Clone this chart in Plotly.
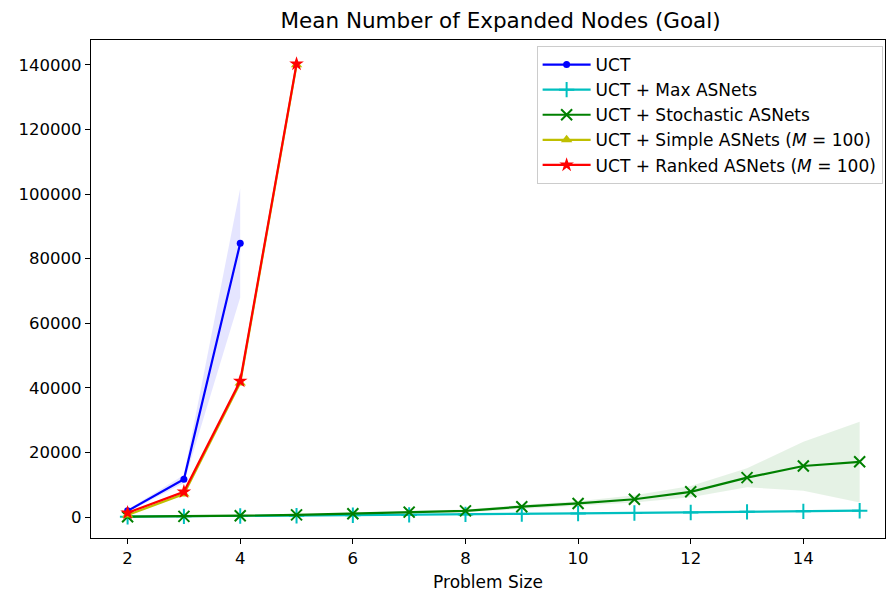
import plotly.graph_objects as go

# ---- data ----
sizes_short = [2, 3, 4]
sizes_mid = [2, 3, 4, 5]
sizes_long = list(range(2, 16))

uct_mean = [1900, 11700, 84800]
uct_lo = [1500, 10500, 68000]
uct_hi = [2300, 13000, 101800]

max_mean = [100, 200, 300, 400, 550, 650, 800, 950, 1100, 1250, 1400, 1600, 1750, 1950]
max_lo = [80, 170, 260, 350, 490, 580, 720, 860, 1000, 1140, 1280, 1460, 1600, 1780]
max_hi = [120, 230, 340, 450, 610, 720, 880, 1040, 1200, 1360, 1520, 1740, 1900, 2120]

sto_mean = [100, 200, 400, 650, 1000, 1500, 1900, 3200, 4200, 5500, 7800, 12200, 15800, 17100]
sto_lo = [80, 160, 320, 520, 800, 1150, 1450, 2600, 3500, 4500, 6100, 9200, 8100, 4500]
sto_hi = [120, 240, 480, 780, 1200, 1850, 2350, 3800, 4900, 6700, 9600, 15100, 23300, 29500]

simple_mean = [600, 7100, 41500, 140000]
simple_lo = [500, 6800, 41000, 139500]
simple_hi = [700, 7400, 42000, 140500]

ranked_mean = [1300, 7800, 42100, 140300]
ranked_lo = [1200, 7500, 41600, 139800]
ranked_hi = [1400, 8100, 42600, 140800]

names = [
    "UCT",
    "UCT + Max ASNets",
    "UCT + Stochastic ASNets",
    "UCT + Simple ASNets (<i>M</i> = 100)",
    "UCT + Ranked ASNets (<i>M</i> = 100)",
]
colors = ["#0000ff", "#00bfbf", "#008000", "#bfbf00", "#ff0000"]
fills = ["rgba(0,0,255,0.1)", "rgba(0,191,191,0.1)", "rgba(0,128,0,0.1)",
         "rgba(191,191,0,0.1)", "rgba(255,0,0,0.1)"]
symbols = ["circle", "cross-thin", "x-thin", "triangle-up", "star"]
msizes = [7, 11, 11, 10, 11]

series = [
    (sizes_short, uct_mean, uct_lo, uct_hi),
    (sizes_long, max_mean, max_lo, max_hi),
    (sizes_long, sto_mean, sto_lo, sto_hi),
    (sizes_mid, simple_mean, simple_lo, simple_hi),
    (sizes_mid, ranked_mean, ranked_lo, ranked_hi),
]

fig = go.Figure()
for i, (xs, m, lo, hi) in enumerate(series):
    fig.add_trace(go.Scatter(
        x=list(xs) + list(xs)[::-1], y=list(hi) + list(lo)[::-1],
        fill="toself", fillcolor=fills[i], line=dict(width=0),
        mode="lines", showlegend=False, hoverinfo="skip"))
for i, (xs, m, lo, hi) in enumerate(series):
    thin = symbols[i] in ("cross-thin", "x-thin")
    fig.add_trace(go.Scatter(
        x=xs, y=m, name=names[i], mode="lines+markers",
        line=dict(color=colors[i], width=2.2),
        marker=dict(symbol=symbols[i], size=msizes[i], color=colors[i],
                    line=dict(color=colors[i], width=2 if thin else 0))))

axis_common = dict(showline=True, linecolor="black", linewidth=1.2, mirror=True,
                   ticks="outside", ticklen=5, tickcolor="black", showgrid=False,
                   zeroline=False, tickfont=dict(size=16.5, color="black"))

fig.update_layout(
    width=886, height=594,
    margin=dict(l=91, r=1, t=40, b=56),
    paper_bgcolor="white", plot_bgcolor="white",
    font=dict(family="DejaVu Sans", color="black"),
    title=dict(text="Mean Number of Expanded Nodes (Goal)", x=0.565, xanchor="center",
               y=0.965, yanchor="middle", font=dict(size=21.5)),
    xaxis=dict(range=[1.35, 15.45], tickvals=[2, 4, 6, 8, 10, 12, 14],
               title=dict(text="Problem Size", font=dict(size=17), standoff=9),
               **axis_common),
    yaxis=dict(range=[-6500, 147700], tickvals=[0, 20000, 40000, 60000, 80000, 100000, 120000, 140000],
               tickformat="d", **axis_common),
    legend=dict(x=0.997, y=0.988, xanchor="right", yanchor="top",
                bgcolor="rgba(255,255,255,0.8)", bordercolor="#cccccc", borderwidth=1,
                font=dict(size=17), tracegroupgap=0, itemwidth=48),
)

fig.write_html("out.html")
